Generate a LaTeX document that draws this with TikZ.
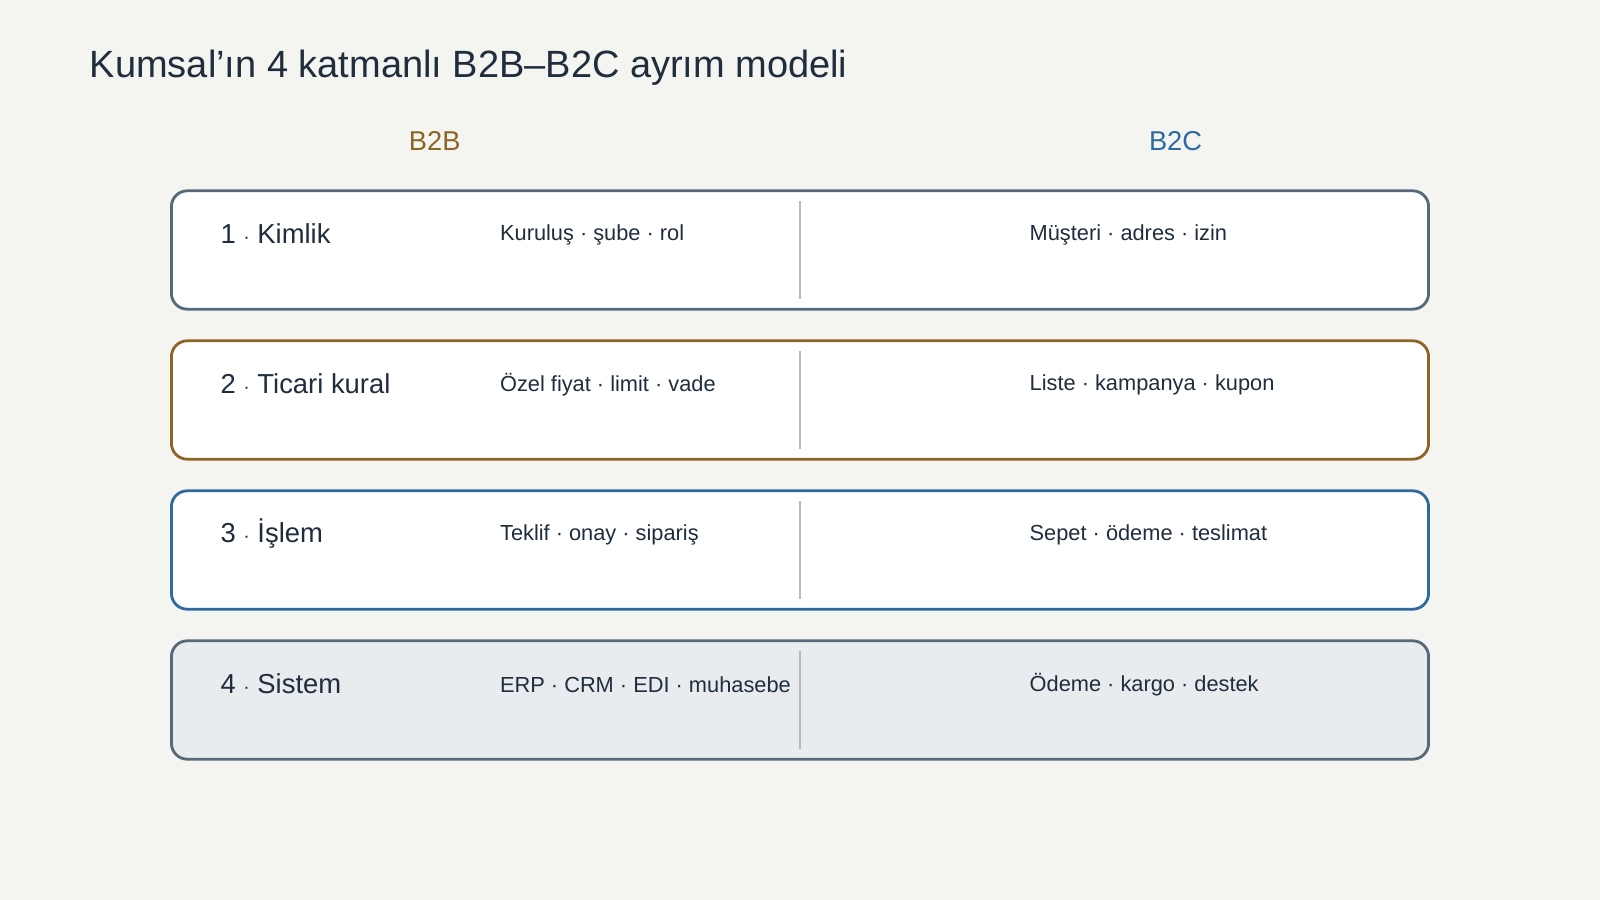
\documentclass[tikz,border=0pt]{standalone}
\usepackage{fontspec}
\setmainfont{Liberation Sans}
\usetikzlibrary{positioning}
\definecolor{bgc}{HTML}{F4F4F0}
\definecolor{ink}{HTML}{1F2D3D}
\definecolor{slate}{HTML}{56687A}
\definecolor{bronze}{HTML}{8B6525}
\definecolor{azure}{HTML}{2E6AA0}
\definecolor{mist}{HTML}{E8ECEE}
\definecolor{rule}{HTML}{B4BABF}
\tikzset{
  layer/.style={draw=#1, line width=1.6pt, rounded corners=9pt, fill=white},
  tag/.style={anchor=west, font=\fontsize{15.6}{18}\selectfont, text=ink},
  item/.style={anchor=west, font=\fontsize{12.4}{14}\selectfont, text=ink},
  head/.style={font=\fontsize{15.5}{17}\selectfont}
}
\begin{document}
\begin{tikzpicture}[x=0.020408cm, y=-0.020408cm]
\useasboundingbox[fill=bgc] (0,0) rectangle (1568,882);

%title
\node[anchor=west, font=\fontsize{21.6}{24}\selectfont, text=ink] (title) at (82,66) {Kumsal\symbol{39}ın 4 katmanlı B2B–B2C ayrım modeli};

%column heads
\node[head, text=bronze] (b2b) at (426,138) {B2B};
\node[head, text=azure] (b2c) at (1152,138) {B2C};

%layers
\foreach \i/\y/\c/\f/\lbl/\lt/\rt in {
  1/187/slate/white/Kimlik/{Kuruluş · şube · rol}/{Müşteri · adres · izin},
  2/334/bronze/white/Ticari kural/{Özel fiyat · limit · vade}/{Liste · kampanya · kupon},
  3/481/azure/white/İşlem/{Teklif · onay · sipariş}/{Sepet · ödeme · teslimat},
  4/628/slate/mist/Sistem/{ERP · CRM · EDI · muhasebe}/{Ödeme · kargo · destek}} {
\draw[layer=\c, fill=\f] (168,\y) rectangle (1400,\y+116);
\draw[rule, line width=1.2pt] (784,\y+10) -- (784,\y+106);
\node[tag] (row\i) at (210,\y+42) {\i\ {\fontsize{11}{12}\selectfont·} \lbl};
\node[item] (b2b\i) at (484,\y+43) {\lt};
\node[item] (b2c\i) at (1003,\y+43) {\rt};
}
\end{tikzpicture}
\end{document}
